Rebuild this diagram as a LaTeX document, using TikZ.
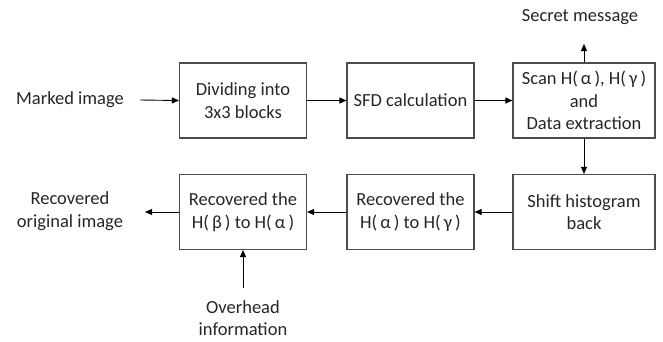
\documentclass[tikz,border=0pt]{standalone}
\usepackage{fontspec}
\setmainfont{Carlito}
\usetikzlibrary{arrows.meta}
\begin{document}
\begin{tikzpicture}[x=1pt,y=-1pt,
  every node/.style={font=\fontsize{18.5}{22.5}\selectfont, align=center, text=black!85},
  blk/.style={draw=black!70, line width=1.1pt, minimum width=127pt, minimum height=75pt, inner sep=0pt},
  wblk/.style={blk, minimum width=142pt},
  arr/.style={-{Triangle[length=7pt,width=6pt]}, line width=0.9pt, black}]
\useasboundingbox (0,0) rectangle (663,341);
\node[blk] (b1) at (243,100.5) {Dividing into\\3x3 blocks};
\node[blk] (b2) at (410.5,100.5) {SFD calculation};
\node[wblk] (b3) at (584,100.5) {Scan H(\,α\,), H(\,γ\,)\\and\\Data extraction};
\node[wblk] (b4) at (584,212) {Shift histogram\\back};
\node[blk] (b5) at (410.5,212) {Recovered the\\H(\,α\,) to H(\,γ\,)};
\node[blk] (b6) at (243,212) {Recovered the\\H(\,β\,) to H(\,α\,)};
\node (mi) at (70,100) {Marked image};
\node (sm) at (580,17) {Secret message};
\node (ro) at (70,211) {Recovered\\original image};
\node (oh) at (243,318) {Overhead\\information};
\coordinate (miE) at (140,100);
\coordinate (smS) at (584,44);
\coordinate (roE) at (145,212);
\coordinate (ohN) at (243,288);
\draw[arr] (miE) -- (b1.west);
\draw[arr] (b1.east) -- (b2.west);
\draw[arr] (b2.east) -- (b3.west);
\draw[arr] (b3.north) -- (smS);
\draw[arr] (b3.south) -- (b4.north);
\draw[arr] (b4.west) -- (b5.east);
\draw[arr] (b5.west) -- (b6.east);
\draw[arr] (b6.west) -- (roE);
\draw[arr] (ohN) -- (b6.south);
\end{tikzpicture}
\end{document}
